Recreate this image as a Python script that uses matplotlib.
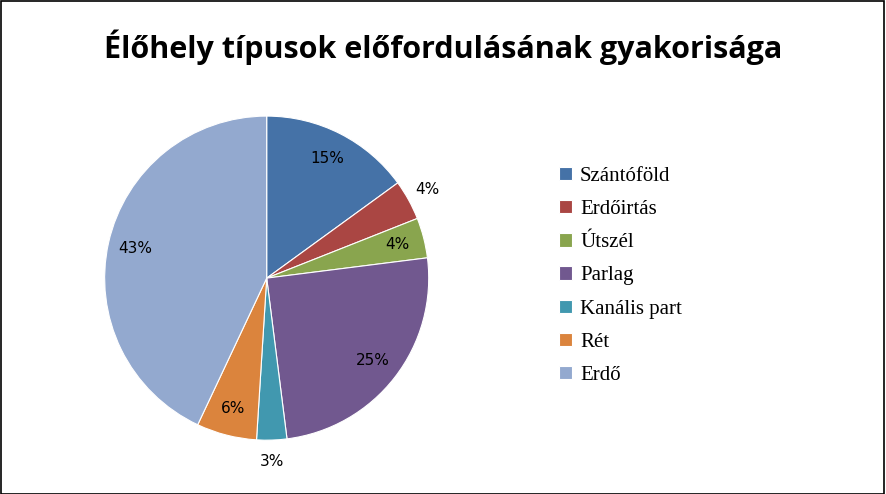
import matplotlib.pyplot as plt
from matplotlib.patches import Rectangle

labels = ["Szántóföld", "Erdőirtás", "Útszél", "Parlag", "Kanális part", "Rét", "Erdő"]
values = [15, 4, 4, 25, 3, 6, 43]
colors = ["#4572A7", "#AA4643", "#89A54E", "#71588F", "#4198AF", "#DB843D", "#93A9CF"]
outside = ["Erdőirtás", "Kanális part"]

fig = plt.figure(figsize=(8.86, 4.94), dpi=100)
fig.patches.append(Rectangle((0.001, 0.001), 0.997, 0.996, transform=fig.transFigure,
                             fill=False, edgecolor="black", linewidth=1.2))
fig.text(0.5, 0.905, "Élőhely típusok előfordulásának gyakorisága", ha="center", va="center",
         fontsize=22, fontweight="bold", family="Open Sans")

w, h = 0.366 * 1.25, 0.656 * 1.25
ax = fig.add_axes([0.301 - w / 2, 0.437 - h / 2, w, h])
wedges, texts, autotexts = ax.pie(values, colors=colors, startangle=90, counterclock=False,
                                  autopct="%d%%", pctdistance=0.83,
                                  wedgeprops=dict(edgecolor="white", linewidth=0.8),
                                  textprops=dict(fontsize=11, family="DejaVu Sans"))
ax.set_aspect("equal")
# labels of two small slices sit outside the pie
for lab, t in zip(labels, autotexts):
    if lab in outside:
        x, y = t.get_position()
        t.set_position((x / 0.83 * 1.13, y / 0.83 * 1.13))

leg = ax.legend(wedges, labels, loc="upper left", bbox_to_anchor=(0.61, 0.7),
                bbox_transform=fig.transFigure, frameon=False,
                prop=dict(family="Liberation Serif", size=15), labelspacing=0.68,
                handlelength=0.6, handleheight=0.6, handletextpad=0.4)

fig.savefig("out.png", dpi=100)
